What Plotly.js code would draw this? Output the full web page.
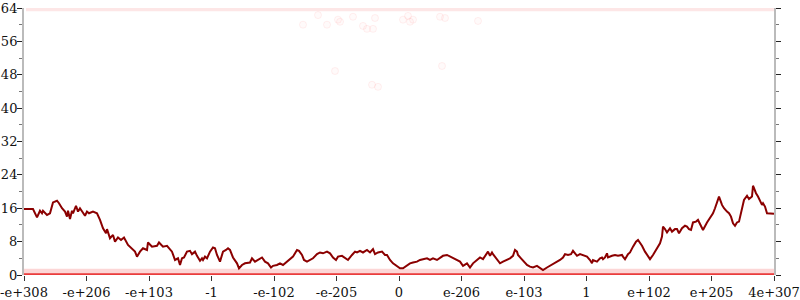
<!DOCTYPE html>
<html>
<head>
<meta charset="utf-8">
<script src="https://cdn.plot.ly/plotly-3.0.1.min.js"></script>
<style>html,body{margin:0;padding:0;background:#fff;}#chart{width:800px;height:300px;}</style>
</head>
<body>
<div id="chart"></div>
<script>
// x positions are in axis units (one unit per step of the ordered-float scale)
var tickVals = [-375, -312.5, -250, -187.5, -125, -62.5, 0, 62.5, 125, 187.5, 250, 312.5, 375];
var tickText = ["-e+308", "-e+206", "-e+103", "-1", "-e-102", "-e-205", "0", "e-206", "e-103", "1", "e+102", "e+205", "4e+307"];

var lineX = [-375,-366,-362,-359,-357,-356,-352,-349,-346,-342,-340,-337,-334,-332,-331,-329,-327,-326,-323,-321,-319,-314,-312,-310,-306,-302,-299,-296,-293,-292,-289,-286,-284,-281,-278,-275,-271,-267,-264,-262,-259,-256,-252,-251,-247,-242,-240,-236,-232,-227,-226,-224,-221,-219,-217,-215,-212,-209,-207,-204,-202,
 -199,-197,-196,-194,-192,-189,-186,-184,-182,-179,-176,-173,-171,-169,-167,-166,-162,-160,-157,-154,-149,-147,-144,-141,-137,-134,-131,-128,-126,-122,-119,-116,-112,-109,-106,-102,-100,-97,-95,-92,-89,-86,-82,-79,-76,-72,-69,-66,-63,-61,-57,-54,-51,-47,-44,-42,-39,-36,-32,-29,-26,-24,-21,-17,-14,-12,-9,-6,-2,
 1,4,8,11,14,18,21,24,28,31,34,38,41,44,48,51,54,58,61,64,68,71,74,78,81,84,88,89,91,93,94,98,101,104,108,111,114,116,118,119,122,124,128,131,134,138,141,144,148,151,154,158,161,164,166,169,172,174,178,181,184,188,191,193,194,198,
 201,203,204,206,208,209,213,216,219,223,224,226,229,231,234,237,239,241,243,246,249,251,254,256,259,261,263,264,266,268,271,273,276,278,280,283,286,288,290,292,294,297,299,303,304,308,311,314,316,318,320,323,325,328,330,332,334,336,338,340,343,345,348,350,353,354,357,359,363,364,366,368,375];
var lineY = [15.8,15.8,13.8,15.4,14.8,15.4,14.4,14.8,17.4,17.8,17.2,16.0,15.2,14.0,15.4,13.4,15.4,14.8,16.6,15.2,16.0,14.2,15.2,14.8,15.2,14.8,13.2,11.2,10.0,11.0,8.8,9.6,8.0,9.0,8.4,9.0,7.2,6.4,5.6,4.4,5.6,6.4,6.0,7.8,6.8,7.0,7.8,6.8,7.0,5.6,4.8,3.6,4.0,2.4,4.0,4.2,5.6,5.8,5.0,5.6,4.6,
 3.4,4.0,3.6,4.4,4.0,5.6,6.6,6.4,4.8,3.2,5.6,6.0,6.4,6.0,4.8,4.2,2.8,1.6,2.4,2.8,3.0,4.0,3.2,3.6,4.2,3.2,2.8,1.8,2.2,2.4,2.8,2.4,3.2,3.6,4.4,6.0,5.8,4.8,3.6,3.2,3.6,4.0,5.0,5.4,5.2,5.6,5.2,4.2,3.6,4.4,4.6,4.0,3.6,4.8,5.6,5.4,5.8,5.4,6.0,5.4,6.2,5.0,5.4,5.6,4.8,4.8,3.6,2.8,2.2,1.6,
 1.6,2.2,2.8,3.0,3.2,3.6,3.8,4.0,3.6,4.0,3.6,4.2,4.6,4.8,4.4,4.2,3.6,3.2,2.2,2.8,1.8,2.8,3.6,4.2,3.8,5.4,5.6,4.6,5.4,5.0,3.6,2.8,3.2,3.6,4.0,4.6,6.0,5.6,4.8,4.0,3.4,2.4,2.0,1.8,2.2,1.6,1.2,1.8,2.2,2.8,3.2,3.6,4.2,5.0,4.8,5.0,5.8,4.6,5.0,4.8,4.4,3.6,2.8,3.6,3.2,4.0,
 4.2,3.8,4.2,5.2,4.2,4.6,4.8,4.6,4.8,4.4,3.8,5.0,5.4,6.8,8.0,8.4,7.8,7.0,5.6,4.4,3.8,4.8,5.6,6.8,7.6,9.2,11.6,11.0,10.2,11.2,10.4,11.0,11.0,10.0,11.2,11.8,11.6,11.0,10.8,12.6,12.8,13.2,11.2,10.8,12.6,13.6,14.8,16.0,17.2,18.8,16.8,16.0,15.2,14.8,14.0,12.4,11.8,12.6,12.8,15.6,18.0,19.0,18.2,18.8,21.4,19.6,18.8,16.8,17.2,16.4,14.8,14.7,14.7];

// scattered faint samples
var dotX = [-96,-81,-72,-61,-59,-46,-36,-32,-26,-24,-64,-27,-21,4,9,11,14,41,46,43,79];
var dotY = [60.0,62.3,60.0,61.2,60.7,61.9,59.7,59.0,59.0,61.6,48.9,45.6,45.1,61.2,62.1,60.7,61.2,61.9,61.6,50.1,60.9];

// dense sample bands at the bottom and top
var lowBandX = [-375, 375, 375, -375];
var lowBandY = [0.2, 0.2, 1.5, 1.5];
var topBandX = [-373, 375, 375, -373];
var topBandY = [63.2, 63.2, 64, 64];
var zeroX = [-375, 375];
var zeroY = [0.18, 0.18];

var traces = [
  {x: lowBandX, y: lowBandY, type: 'scatter', mode: 'lines', fill: 'toself', fillcolor: 'rgba(240,50,50,0.2)', line: {width: 0}, hoverinfo: 'skip', showlegend: false},
  {x: topBandX, y: topBandY, type: 'scatter', mode: 'lines', fill: 'toself', fillcolor: 'rgba(240,60,60,0.13)', line: {width: 0}, hoverinfo: 'skip', showlegend: false},
  {x: zeroX, y: zeroY, type: 'scatter', mode: 'lines', line: {color: 'rgba(232,40,40,0.9)', width: 2.2}, showlegend: false},
  {x: dotX, y: dotY, type: 'scatter', mode: 'markers', marker: {size: 7, color: 'rgba(255,0,0,0.02)', line: {color: 'rgba(255,60,60,0.08)', width: 1}}, showlegend: false},
  {x: lineX, y: lineY, type: 'scatter', mode: 'lines', line: {color: '#8b0000', width: 2}, showlegend: false}
];

var fnt = {family: 'DejaVu Serif', size: 13, color: '#111'};
var minorY = {ticks: 'outside', ticklen: 3, dtick: 4, tickcolor: '#777', tickwidth: 1};
var minorYin = {ticks: 'inside', ticklen: 3, dtick: 4, tickcolor: '#777', tickwidth: 1};

var layout = {
  width: 800, height: 300,
  margin: {l: 24, r: 26, t: 8, b: 25, pad: 0},
  paper_bgcolor: '#fff', plot_bgcolor: '#fff',
  font: fnt,
  showlegend: false,
  xaxis: {range: [-375, 375], tickmode: 'array', tickvals: tickVals, ticktext: tickText, ticks: 'outside', ticklen: 5, tickcolor: '#333', tickwidth: 1,
          showline: false, showgrid: false, zeroline: false, automargin: false, tickfont: fnt, fixedrange: true},
  xaxis2: {overlaying: 'x', range: [-375, 375], tickmode: 'array', tickvals: tickVals, ticks: 'inside', ticklen: 6, tickcolor: '#333', tickwidth: 1,
          showticklabels: false, showline: false, showgrid: false, zeroline: false, automargin: false, anchor: 'y'},
  xaxis3: {overlaying: 'x', side: 'top', range: [-375, 375], ticks: '', showticklabels: false, showline: true, linecolor: '#aaa', linewidth: 2,
          showgrid: false, zeroline: false, automargin: false, anchor: 'y'},
  yaxis: {range: [0, 64], tickmode: 'linear', tick0: 0, dtick: 8, ticks: 'outside', ticklen: 5, tickcolor: '#222', tickwidth: 1, minor: minorY,
          showline: true, linecolor: '#bbb', linewidth: 2, mirror: 'ticks', showgrid: false, zeroline: false, automargin: false, tickfont: fnt, fixedrange: true,
          ticklabelstandoff: -3},
  yaxis2: {overlaying: 'y', range: [0, 64], tickmode: 'linear', tick0: 0, dtick: 8, ticks: 'inside', ticklen: 6, tickcolor: '#222', tickwidth: 1, minor: minorYin,
          showline: false, mirror: 'ticks', showticklabels: false, showgrid: false, zeroline: false, automargin: false, anchor: 'x'},
  yaxis3: {overlaying: 'y', anchor: 'free', position: 0.5, range: [0, 64], tickmode: 'linear', tick0: 0, dtick: 8, ticks: 'outside', ticklen: 6, tickcolor: '#222', tickwidth: 1, minor: minorY,
          showline: true, linecolor: '#999', linewidth: 1.5, showticklabels: false, showgrid: false, zeroline: false, automargin: false},
  yaxis4: {overlaying: 'y', anchor: 'free', position: 0.5, range: [0, 64], tickmode: 'linear', tick0: 0, dtick: 8, ticks: 'inside', ticklen: 6, tickcolor: '#222', tickwidth: 1, minor: minorYin,
          showline: false, showticklabels: false, showgrid: false, zeroline: false, automargin: false}
};

Plotly.newPlot('chart', traces, layout, {staticPlot: true, displayModeBar: false});
</script>
</body>
</html>
